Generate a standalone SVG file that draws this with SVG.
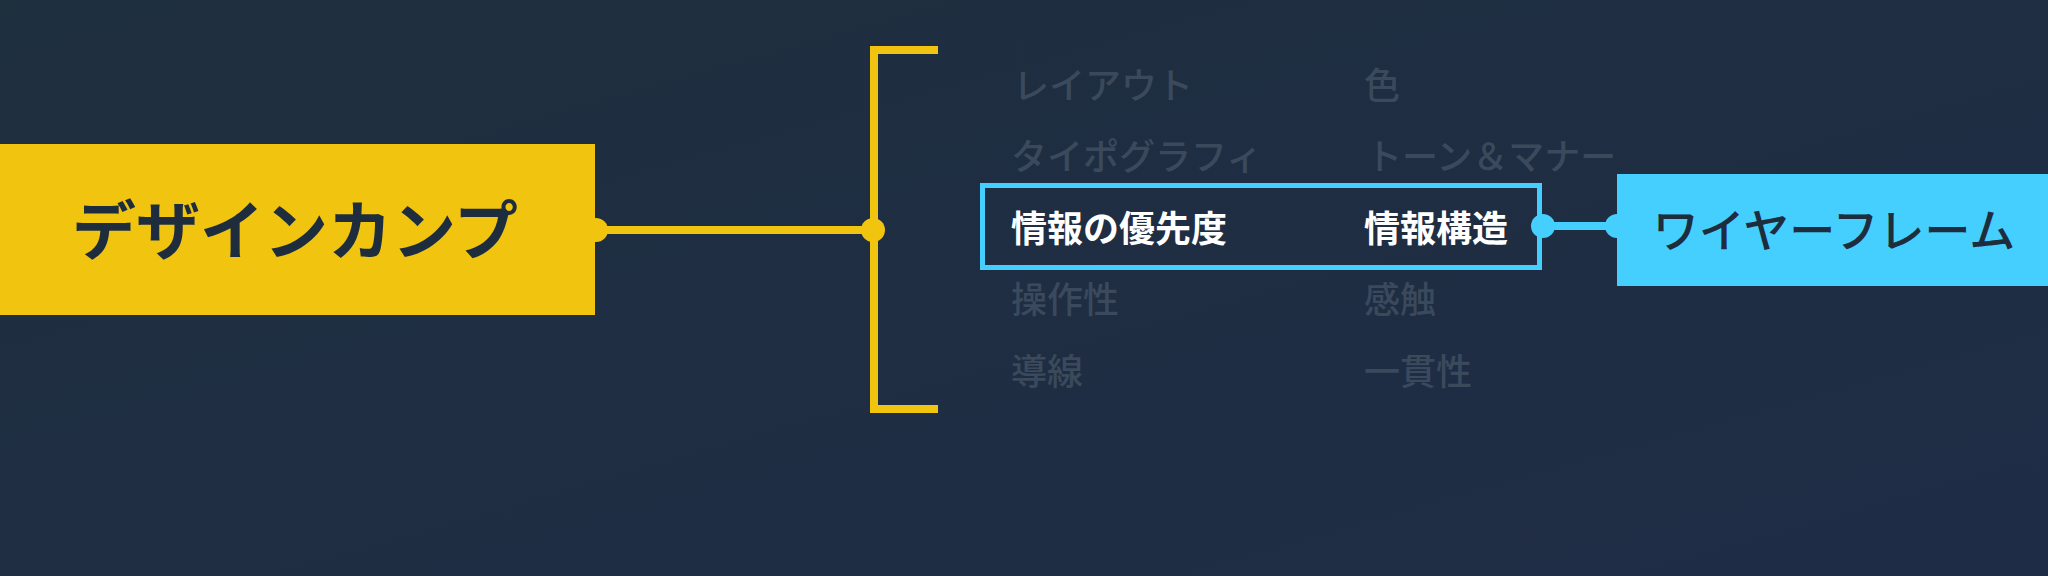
<svg xmlns="http://www.w3.org/2000/svg" width="2048" height="576" viewBox="0 0 2048 576">
<defs>
<linearGradient id="bg" x1="0" y1="0" x2="1" y2="1">
<stop offset="0" stop-color="#1e2f3e"/>
<stop offset="1" stop-color="#1f2c46"/>
</linearGradient>
<style>
.jp{font-family:"Noto Sans CJK JP","Noto Sans CJK SC",sans-serif}
.item{font-size:36px;font-weight:500;fill:#3b495c}
.hi{font-size:36px;font-weight:700;fill:#ffffff}
.y{fill:#f1c40f}
.b{fill:#45cffe}
</style>
</defs>
<rect width="2048" height="576" fill="url(#bg)"/>
<g id="connectors">
<line x1="595" y1="230" x2="873" y2="230" stroke="#f1c40f" stroke-width="8"/>
<circle class="y" cx="596" cy="230" r="12"/>
<circle class="y" cx="873" cy="230" r="12"/>
<path d="M938,50 H874 V409 H938" fill="none" stroke="#f1c40f" stroke-width="8"/>
<line x1="1542" y1="226" x2="1617" y2="226" stroke="#45cffe" stroke-width="8"/>
<circle class="b" cx="1543" cy="226" r="12"/>
<circle class="b" cx="1617" cy="226" r="12"/>
</g>
<g id="node-comp">
<rect x="0" y="144" width="595" height="171" fill="#f1c40f"/>
<text class="jp" x="295" y="254" font-size="64" font-weight="700" fill="#1e2d3d" text-anchor="middle">デザインカンプ</text>
</g>
<g id="node-wireframe">
<rect x="1617" y="174" width="431" height="112" fill="#45cffe"/>
<text class="jp" x="1834" y="247" font-size="46" font-weight="500" fill="#1e2d3d" text-anchor="middle">ワイヤーフレーム</text>
</g>
<g id="node-highlight">
<rect x="982.5" y="185.5" width="557" height="82" fill="none" stroke="#45cffe" stroke-width="5"/>
<text class="jp hi" x="1011" y="242">情報の優先度</text>
<text class="jp hi" x="1364" y="242">情報構造</text>
</g>
<g id="items">
<text class="jp item" x="1013" y="99">レイアウト</text>
<text class="jp item" x="1011" y="170">タイポグラフィ</text>
<text class="jp item" x="1011" y="313">操作性</text>
<text class="jp item" x="1011" y="385">導線</text>
<text class="jp item" x="1364" y="99">色</text>
<text class="jp item" x="1366" y="170">トーン＆マナー</text>
<text class="jp item" x="1364" y="313">感触</text>
<text class="jp item" x="1364" y="385">一貫性</text>
</g>
</svg>
